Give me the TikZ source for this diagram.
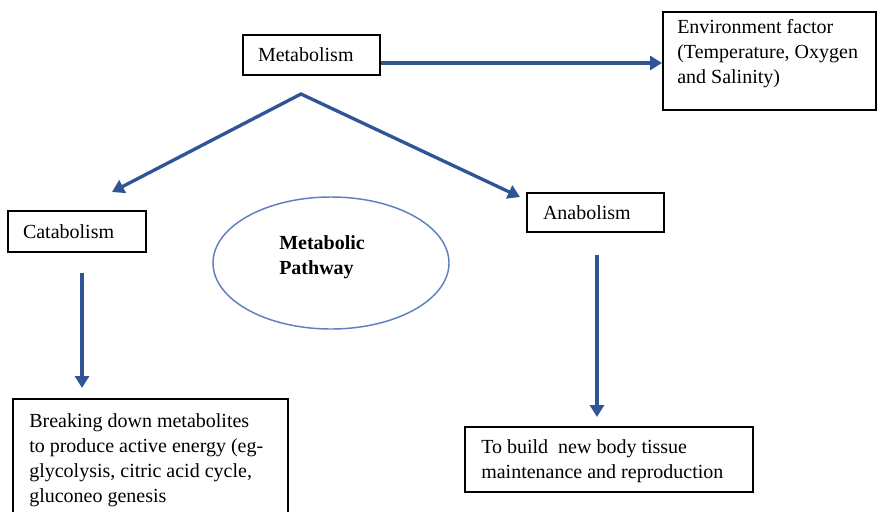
\documentclass[tikz,border=0pt]{standalone}
\usepackage{fontspec}
\setmainfont{Liberation Serif}
\usetikzlibrary{arrows.meta,shapes.geometric}
\definecolor{arrowblue}{RGB}{47,85,151}
\definecolor{ellblue}{RGB}{95,128,192}
\newcommand{\figfs}{\fontsize{15pt}{18.75pt}\selectfont}
\begin{document}
\begin{tikzpicture}[x=0.75pt,y=-0.75pt,
  box/.style={draw=black, line width=1.5pt, rectangle, inner ysep=0pt, align=left, font=\figfs},
  txt/.style={inner sep=0pt, align=left, anchor=north west, font=\figfs},
  arr/.style={draw=arrowblue, line width=2.5pt, -{Triangle[length=9pt,width=10.5pt]}},
  pathell/.style={draw=ellblue, line width=1.1pt, ellipse, inner sep=0pt}]
\fill[white] (0,0) rectangle (877,511);
\useasboundingbox (0,0) rectangle (877,511);
\begin{scope}
\clip (0,0) rectangle (877,511);

% boxes
\node[box, inner xsep={15*0.75pt}, text width={107*0.75pt}, minimum height={40*0.75pt}] (met) at (311.5,55) {Metabolism};
\node[box, inner xsep={15*0.75pt}, text width={108*0.75pt}, minimum height={41*0.75pt}] (cat) at (77,231.5) {Catabolism};
\node[box, inner xsep={16*0.75pt}, text width={105*0.75pt}, minimum height={39*0.75pt}] (ana) at (595.5,212.5) {Anabolism};

\node[box, minimum width={213*0.75pt}, minimum height={98*0.75pt}] (env) at (769.5,61) {};
\node[txt] (envtext) at (677,19) {Environment factor\\(Temperature, Oxygen\\and Salinity)};

\node[box, minimum width={275*0.75pt}, minimum height={131*0.75pt}] (brk) at (150.5,464.5) {};
\node[txt] (brktext) at (29,413) {Breaking down metabolites\\to produce active energy (eg-\\glycolysis, citric acid cycle,\\gluconeo genesis};

\node[box, minimum width={288*0.75pt}, minimum height={65*0.75pt}] (bld) at (609,459.5) {};
\node[txt] (bldtext) at (481,439) {To build\ \ new body tissue\\maintenance and reproduction};

% ellipse
\node[pathell, minimum width={236*0.75pt}, minimum height={132*0.75pt}] (pw) at (331,263) {};
\node[txt, font=\figfs\bfseries] (pwtext) at (279,235) {Metabolic\\Pathway};

% connectors
\coordinate (apex) at (301,94);
\coordinate (catTip) at (112,192);
\coordinate (anaTip) at (520,197);
\coordinate (catA) at (82,273);
\coordinate (catB) at (82,388);
\coordinate (anaA) at (597,255);
\coordinate (anaB) at (597,417);

\draw[arr] ([yshift=-6pt]met.east) -- ([yshift=-6pt]met.east -| env.west);
\draw[arr, {Triangle[length=9pt,width=10.5pt]}-{Triangle[length=9pt,width=10.5pt]}, line join=miter] (catTip) -- (apex) -- (anaTip);
\draw[arr] (catA) -- (catB);
\draw[arr] (anaA) -- (anaB);
\end{scope}
\end{tikzpicture}
\end{document}
